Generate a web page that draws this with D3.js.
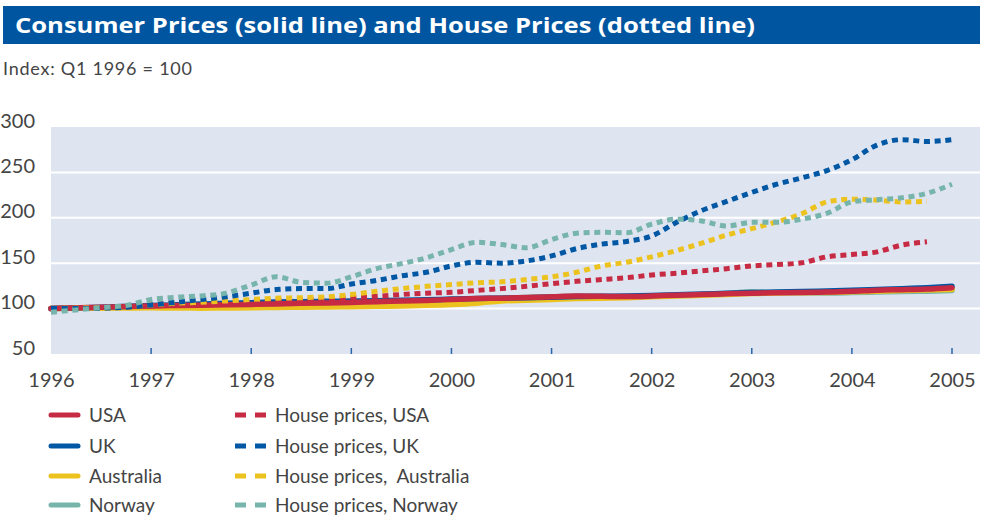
<!DOCTYPE html>
<html>
<head>
<meta charset="utf-8">
<script src="https://cdn.jsdelivr.net/npm/d3@7"></script>
<style>
  body { margin: 0; background: #fff; }
  text { font-family: Lato, "Open Sans", sans-serif; }
</style>
</head>
<body>
<div id="vis" style="width:982px;height:515px;"></div>
<script>
// quarters, Q1 1996 .. Q1 2005
var quarters = [1996, 1996.25, 1996.5, 1996.75, 1997, 1997.25, 1997.5, 1997.75,
  1998, 1998.25, 1998.5, 1998.75, 1999, 1999.25, 1999.5, 1999.75,
  2000, 2000.25, 2000.5, 2000.75, 2001, 2001.25, 2001.5, 2001.75,
  2002, 2002.25, 2002.5, 2002.75, 2003, 2003.25, 2003.5, 2003.75,
  2004, 2004.25, 2004.5, 2004.75, 2005];

var yearTicks = [1996, 1997, 1998, 1999, 2000, 2001, 2002, 2003, 2004, 2005];
var valueTicks = [50, 100, 150, 200, 250, 300];

// consumer prices (solid)
var cpiUSA = [100, 100.8, 101.5, 102.3, 103, 103.5, 103.8, 104.2, 104.6, 105.2, 105.8, 106.3,
  106.8, 107.6, 108.3, 109, 110, 111, 111.5, 112.2, 113, 113.8, 113.5, 113.2,
  113.8, 114.8, 115.5, 116.3, 117, 117.4, 117.6, 118.2, 119, 120.3, 120.8, 121.5, 123];
var cpiUK = [100, 100.8, 101.6, 102.4, 103.3, 104.2, 105, 105.8, 106.5, 107.2, 107.6, 108,
  108.3, 108.7, 109.2, 109.7, 110.5, 111.2, 111.5, 112, 112.6, 113.2, 113.5, 113.8,
  114.4, 115.2, 116, 116.8, 117.6, 118.2, 118.8, 119.4, 120.2, 121, 122, 123, 124.5];
var cpiAustralia = [100, 100.3, 100.5, 100.6, 100.8, 100.7, 100.5, 100.7, 101, 101.3, 101.5, 101.8,
  102, 102.5, 103, 103.6, 104.5, 106, 108.5, 109.2, 110, 111, 111.5, 112,
  113, 114, 114.7, 115.5, 116.5, 117.3, 117.4, 117.8, 118.5, 119.2, 119.8, 120.4, 121];
var cpiNorway = [100, 100.5, 101, 101.6, 102.2, 102.8, 103.4, 103.8, 104.5, 105.2, 105.8, 106.3,
  107, 107.7, 108.3, 109, 110, 110.8, 111.6, 112.3, 113, 113.5, 113.2, 113,
  113.6, 114.4, 115.3, 116.5, 118.5, 117.8, 117.5, 117.2, 117.6, 118.2, 118.8, 119.2, 120];

// house prices (dotted)
var hpUSA = [100, 100.5, 101, 102, 103, 104, 105, 106, 107, 108.5, 109.5, 110.5,
  112, 113.5, 115.5, 117, 118, 120, 122, 124.5, 127.5, 130, 132, 134,
  137, 139, 141.5, 144, 147, 148.5, 150.5, 157, 159.5, 162.5, 170, 173.5];
var hpUK = [100, 100, 100.5, 101.5, 104, 107, 110, 113, 117, 121, 122, 122,
  127, 131, 136, 140, 147, 151, 150, 152.5, 158, 166, 171, 174,
  180, 195, 208, 218, 228, 237, 244, 252, 264, 280, 286, 284, 286];
var hpAustralia = [100, 100.5, 101, 102, 104, 106, 107, 108.5, 110, 111.5, 112, 113,
  115.5, 119, 122, 124.5, 126.5, 128.5, 129.5, 132, 135, 140, 147, 151,
  157, 164, 172, 181, 188, 195.5, 204.5, 217.5, 220.5, 219.5, 217.5, 218];
var hpNorway = [96, 98.5, 101, 103.5, 110, 112.5, 114, 117, 126, 135, 129, 128,
  135, 144, 149.5, 156, 165, 173, 170.5, 167, 176, 183, 184, 183.5,
  193, 198.5, 196.5, 191, 195, 195, 198.5, 205, 217.5, 220, 222, 227, 237];

var colours = { usa: '#c72a43', uk: '#0057a3', aus: '#ecc21f', nor: '#77b5ac' };

var series = [
  { name: 'Norway', values: cpiNorway, colour: colours.nor, dotted: false },
  { name: 'Australia', values: cpiAustralia, colour: colours.aus, dotted: false },
  { name: 'UK', values: cpiUK, colour: colours.uk, dotted: false },
  { name: 'USA', values: cpiUSA, colour: colours.usa, dotted: false },
  { name: 'House prices, USA', values: hpUSA, colour: colours.usa, dotted: true },
  { name: 'House prices,  Australia', values: hpAustralia, colour: colours.aus, dotted: true },
  { name: 'House prices, UK', values: hpUK, colour: colours.uk, dotted: true },
  { name: 'House prices, Norway', values: hpNorway, colour: colours.nor, dotted: true }
];

var legendRows = [
  ['USA', 'House prices, USA'],
  ['UK', 'House prices, UK'],
  ['Australia', 'House prices,  Australia'],
  ['Norway', 'House prices, Norway']
];
var legendColours = [colours.usa, colours.uk, colours.aus, colours.nor];

var width = 982, height = 515;
var plot = { left: 51, right: 980, top: 127, bottom: 354 };

var svg = d3.select('#vis')
  .append('svg')
  .attr('width', width)
  .attr('height', height);

// title bar
svg.append('rect')
  .attr('x', 3).attr('y', 6)
  .attr('width', 977).attr('height', 38)
  .attr('fill', '#0055a0');
svg.append('text')
  .attr('x', 15).attr('y', 33)
  .attr('fill', '#fff')
  .attr('font-size', 22)
  .attr('font-weight', 'bold')
  .style('font-family', '"Open Sans", sans-serif')
  .attr('textLength', 740)
  .attr('lengthAdjust', 'spacingAndGlyphs')
  .text('Consumer Prices (solid line) and House Prices (dotted line)');

svg.append('text')
  .attr('x', 3).attr('y', 75)
  .attr('fill', '#444')
  .attr('font-size', 18)
  .attr('textLength', 189)
  .text('Index: Q1 1996 = 100');

var x_scale = d3.scaleLinear()
  .domain([1996, 2005])
  .range([51, 952]);

var y_scale = d3.scaleLinear()
  .domain([50, 300])
  .range([plot.bottom, plot.top]);

svg.append('rect')
  .attr('x', plot.left).attr('y', plot.top)
  .attr('width', plot.right - plot.left)
  .attr('height', plot.bottom - plot.top)
  .attr('fill', '#dfe4f1');

// gridlines
svg.append('g')
  .selectAll('line')
  .data(valueTicks.filter(function(d) { return d > 50 && d < 300; }))
  .enter()
  .append('line')
  .attr('x1', plot.left).attr('x2', plot.right)
  .attr('y1', function(d) { return y_scale(d); })
  .attr('y2', function(d) { return y_scale(d); })
  .attr('stroke', '#fff')
  .attr('stroke-width', 2);

// y axis labels
var y_axis = d3.axisLeft(y_scale).tickValues(valueTicks).tickSize(0).tickPadding(0);
var yg = svg.append('g')
  .attr('transform', 'translate(35,0)')
  .call(y_axis);
yg.select('.domain').remove();
yg.selectAll('text')
  .attr('dy', 0)
  .attr('font-size', 20)
  .attr('fill', '#444')
  .style('font-family', 'Lato, sans-serif');

// x axis: small ticks inside the plot, labels underneath
var x_axis = d3.axisBottom(x_scale).tickValues(yearTicks).tickSize(0).tickPadding(0)
  .tickFormat(d3.format('d'));
var xg = svg.append('g')
  .attr('transform', 'translate(0,' + 387 + ')')
  .call(x_axis);
xg.select('.domain').remove();
xg.selectAll('text')
  .attr('dy', 0).attr('y', 0)
  .attr('font-size', 20)
  .attr('fill', '#444')
  .style('font-family', 'Lato, sans-serif');

svg.append('g')
  .selectAll('line')
  .data(yearTicks.slice(1))
  .enter()
  .append('line')
  .attr('x1', function(d) { return x_scale(d); })
  .attr('x2', function(d) { return x_scale(d); })
  .attr('y1', plot.bottom - 6).attr('y2', plot.bottom)
  .attr('stroke', '#2a66a8')
  .attr('stroke-width', 1.5);

var line = d3.line()
  .x(function(d) { return x_scale(d[0]); })
  .y(function(d) { return y_scale(d[1]); })
  .curve(d3.curveMonotoneX);

svg.append('g')
  .selectAll('path')
  .data(series)
  .enter()
  .append('path')
  .attr('d', function(s) {
    return line(s.values.map(function(v, i) { return [quarters[i], v]; }));
  })
  .attr('fill', 'none')
  .attr('stroke', function(s) { return s.colour; })
  .attr('stroke-width', function(s) { return s.dotted ? 5 : 5.5; })
  .attr('stroke-linecap', function(s) { return s.dotted ? 'butt' : 'round'; })
  .attr('stroke-dasharray', function(s) { return s.dotted ? '6,4.7' : null; });

// legend
var legend = svg.append('g');
var rowY = [422, 453, 483, 512];

legendRows.forEach(function(row, i) {
  legend.append('line')
    .attr('x1', 51).attr('x2', 78)
    .attr('y1', rowY[i] - 7).attr('y2', rowY[i] - 7)
    .attr('stroke', legendColours[i])
    .attr('stroke-width', 5)
    .attr('stroke-linecap', 'round');
  legend.append('text')
    .attr('x', 89).attr('y', rowY[i])
    .attr('font-size', 19)
    .attr('fill', '#444')
    .text(row[0]);
  legend.append('line')
    .attr('x1', 235).attr('x2', 266)
    .attr('y1', rowY[i] - 7).attr('y2', rowY[i] - 7)
    .attr('stroke', legendColours[i])
    .attr('stroke-width', 5)
    .attr('stroke-dasharray', '11,9');
  legend.append('text')
    .attr('x', 275).attr('y', rowY[i])
    .attr('font-size', 19)
    .attr('fill', '#444')
    .style('white-space', 'pre')
    .text(row[1]);
});
</script>
</body>
</html>
